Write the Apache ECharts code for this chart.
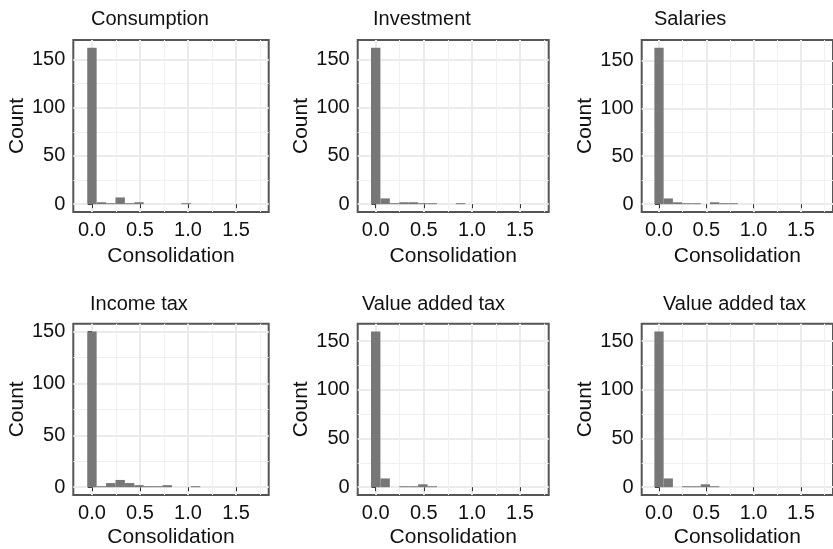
<!DOCTYPE html>
<html>
<head>
<meta charset="utf-8">
<script src="https://cdn.jsdelivr.net/npm/echarts@6/dist/echarts.min.js"></script>
<style>
  html, body { margin: 0; padding: 0; background: #fff; }
  #main { width: 833px; height: 549px; }
</style>
</head>
<body>
<div id="main"></div>
<script>
// histogram bins on Consolidation (edges)
var binEdges = [-0.049, 0.049, 0.147, 0.245, 0.343, 0.441, 0.539, 0.637, 0.735, 0.833, 0.931, 1.029, 1.127];

// counts per bin
var consumptionCounts = [162, 2, 1, 7, 1, 2, 0, 0, 0, 0, 1, 0];
var investmentCounts  = [162, 6, 1, 2, 2, 1, 1, 0, 0, 1, 0, 0];
var salariesCounts    = [163, 6, 2, 1, 1, 0, 2, 1, 1, 0, 0, 0];
var incomeTaxCounts   = [150, 1, 4, 7, 4, 2, 1, 1, 2, 0, 0, 1];
var vatCounts         = [160, 9, 0, 1, 1, 3, 1, 0, 0, 0, 0, 0];
var vatCounts2        = [160, 9, 0, 1, 1, 3, 1, 0, 0, 0, 0, 0];

var panelTitles = ['Consumption', 'Investment', 'Salaries', 'Income tax', 'Value added tax', 'Value added tax'];
var panelCounts = [consumptionCounts, investmentCounts, salariesCounts, incomeTaxCounts, vatCounts, vatCounts2];

var xTicks = [0, 0.5, 1, 1.5];
var xMinorTicks = [0.25, 0.75, 1.25, 1.75];
var yTicks = [0, 50, 100, 150];
var yMinorTicks = [25, 75, 125];

// panel boxes (px) and x ranges
var boxes = [
  { left: 73.3,  top: 40,    width: 195.4, height: 172, xMin: -0.194, xMax: 1.84,  titleX: 86,  titleY: 4 },
  { left: 357.7, top: 40,    width: 191,   height: 172, xMin: -0.187, xMax: 1.798, titleX: 368, titleY: 4 },
  { left: 641.7, top: 40,    width: 194.3, height: 172, xMin: -0.183, xMax: 1.84,  titleX: 649, titleY: 4 },
  { left: 73.3,  top: 323.7, width: 195.4, height: 172, xMin: -0.194, xMax: 1.84,  titleX: 85,  titleY: 289 },
  { left: 357.7, top: 323.7, width: 191,   height: 172, xMin: -0.187, xMax: 1.798, titleX: 357, titleY: 289 },
  { left: 641.7, top: 323.7, width: 194.3, height: 172, xMin: -0.183, xMax: 1.84,  titleX: 658, titleY: 289 }
];

var font = 'Liberation Sans';
var txt = '#111111';

function renderBar(params, api) {
  var p0 = api.coord([api.value(0), api.value(2)]);
  var p1 = api.coord([api.value(1), 0]);
  var cs = params.coordSys;
  var rect = echarts.graphic.clipRectByRect(
    { x: p0[0], y: p0[1], width: p1[0] - p0[0], height: p1[1] - p0[1] },
    { x: cs.x, y: cs.y, width: cs.width, height: cs.height }
  );
  return rect && { type: 'rect', shape: rect, style: { fill: '#777777' } };
}

var grids = [], xAxes = [], yAxes = [], titles = [], series = [];

boxes.forEach(function (b, i) {
  grids.push({
    left: b.left, top: b.top, width: b.width, height: b.height,
    show: true, borderColor: '#555555', borderWidth: 2, backgroundColor: 'transparent'
  });
  titles.push({
    text: panelTitles[i], left: b.titleX, top: b.titleY,
    textStyle: { fontSize: 20, fontWeight: 'normal', color: txt, fontFamily: font }
  });
  // major x axis
  xAxes.push({
    type: 'value', gridIndex: i, min: b.xMin, max: b.xMax, position: 'bottom',
    axisLine: { show: false },
    axisTick: { show: true, customValues: xTicks, length: 4, lineStyle: { color: '#333', width: 1 } },
    axisLabel: {
      customValues: xTicks, fontSize: 20, color: txt, fontFamily: font, margin: 8,
      formatter: function (v) { return v.toFixed(1); }
    },
    splitLine: { show: true, lineStyle: { color: '#EBEBEB', width: 2 } },
    name: 'Consolidation', nameLocation: 'middle', nameGap: i < 3 ? 34 : 32,
    nameTextStyle: { fontSize: 21, color: txt, fontFamily: font }
  });
  // minor x gridlines
  xAxes.push({
    type: 'value', gridIndex: i, min: b.xMin, max: b.xMax, position: 'top',
    axisLine: { show: false },
    axisTick: { show: false, customValues: xMinorTicks },
    axisLabel: { show: false, customValues: xMinorTicks },
    splitLine: { show: true, lineStyle: { color: '#F0F0F0', width: 1 } }
  });
  // major y axis
  yAxes.push({
    type: 'value', gridIndex: i,
    min: function (e) { return -0.05 * e.max; },
    max: function (e) { return 1.05 * e.max; },
    axisLine: { show: false },
    axisTick: { show: true, customValues: yTicks, length: 4, lineStyle: { color: '#333', width: 1 } },
    axisLabel: { customValues: yTicks, fontSize: 20, color: txt, fontFamily: font, margin: 8 },
    splitLine: { show: true, lineStyle: { color: '#EBEBEB', width: 2 } },
    name: 'Count', nameLocation: 'middle', nameGap: 46,
    nameTextStyle: { fontSize: 21, color: txt, fontFamily: font }
  });
  // minor y gridlines
  yAxes.push({
    type: 'value', gridIndex: i, position: 'right',
    min: function (e) { return -0.05 * e.max; },
    max: function (e) { return 1.05 * e.max; },
    axisLine: { show: false },
    axisTick: { show: false, customValues: yMinorTicks },
    axisLabel: { show: false, customValues: yMinorTicks },
    splitLine: { show: true, lineStyle: { color: '#F0F0F0', width: 1 } }
  });

  var data = [];
  panelCounts[i].forEach(function (c, k) {
    if (c > 0) data.push([binEdges[k], binEdges[k + 1], c]);
  });
  series.push({
    type: 'custom', name: panelTitles[i],
    xAxisIndex: 2 * i, yAxisIndex: 2 * i,
    renderItem: renderBar,
    encode: { x: [0, 1], y: 2 },
    data: data, z: 3
  });
  // same data on minor axes so their ranges match
  series.push({
    type: 'custom', name: panelTitles[i] + ' minor',
    xAxisIndex: 2 * i + 1, yAxisIndex: 2 * i + 1,
    renderItem: function () { return null; },
    encode: { x: [0, 1], y: 2 },
    data: data, silent: true
  });
});

var chart = echarts.init(document.getElementById('main'), null, { renderer: 'canvas' });
chart.setOption({
  animation: false,
  backgroundColor: '#ffffff',
  title: titles,
  grid: grids,
  xAxis: xAxes,
  yAxis: yAxes,
  series: series
});
</script>
</body>
</html>
